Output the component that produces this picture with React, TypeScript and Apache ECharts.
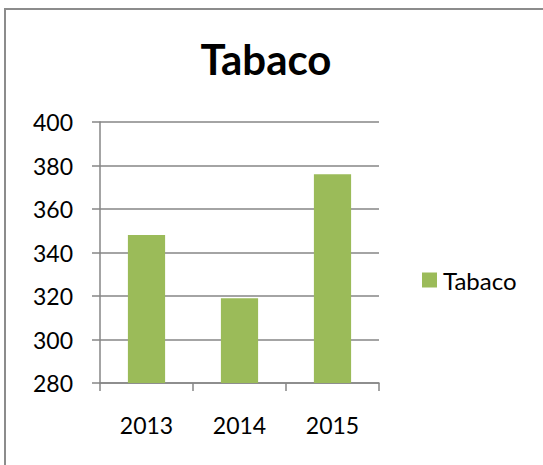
import React, { useEffect, useRef } from "react";
import * as echarts from "echarts";

const categories: string[] = ["2013", "2014", "2015"];
const tabacoValues: number[] = [348, 319, 376];
const seriesName = "Tabaco";
const titleText = "Tabaco";
const yMin = 280;
const yMax = 400;
const yInterval = 20;

const FONT = "Lato, 'Open Sans', sans-serif";
const GRAY = "#868686";

export default function App() {
  const ref = useRef<HTMLDivElement>(null);
  useEffect(() => {
    if (!ref.current) return;
    const chart = echarts.init(ref.current, null, { renderer: "svg" });
    chart.setOption({
      animation: false,
      backgroundColor: "#ffffff",
      title: {
        text: titleText,
        left: 266,
        top: 34,
        textAlign: "center",
        padding: 0,
        textStyle: {
          fontFamily: FONT,
          fontWeight: "bold",
          fontSize: 42,
          lineHeight: 50,
          color: "#000000",
        },
      },
      legend: {
        data: [seriesName],
        left: 422,
        top: 268,
        padding: 0,
        itemWidth: 15,
        itemHeight: 15,
        itemGap: 10,
        icon: "rect",
        textStyle: {
          fontFamily: FONT,
          fontSize: 24,
          lineHeight: 24,
          color: "#000000",
          padding: [0, 0, 0, 1],
        },
      },
      graphic: [
        {
          type: "polyline",
          silent: true,
          shape: {
            points: [
              [5, 600],
              [5, 9],
              [700, 9],
            ],
          },
          style: { stroke: "#8c8c8c", lineWidth: 2, fill: "none" },
        },
      ],
      grid: {
        left: 100,
        top: 122,
        right: 164,
        bottom: 82,
        containLabel: false,
      },
      xAxis: {
        type: "category",
        data: categories,
        boundaryGap: true,
        axisLine: { show: true, lineStyle: { color: GRAY, width: 1.5 } },
        axisTick: { show: true, length: 8, lineStyle: { color: GRAY, width: 1.5 } },
        axisLabel: {
          fontFamily: FONT,
          fontSize: 23,
          lineHeight: 24,
          color: "#000000",
          margin: 30,
        },
        splitLine: { show: false },
      },
      yAxis: {
        type: "value",
        min: yMin,
        max: yMax,
        interval: yInterval,
        axisLine: { show: true, lineStyle: { color: GRAY, width: 1.5 } },
        axisTick: { show: true, length: 8, lineStyle: { color: GRAY, width: 1.5 } },
        axisLabel: {
          fontFamily: FONT,
          fontSize: 23,
          color: "#000000",
          margin: 27,
        },
        splitLine: { show: true, lineStyle: { color: GRAY, width: 1.5 } },
      },
      series: [
        {
          name: seriesName,
          type: "bar",
          data: tabacoValues,
          barWidth: "40%",
          itemStyle: { color: "#9BBB59" },
        },
      ],
    });
    return () => chart.dispose();
  }, []);
  return (
    <div
      ref={ref}
      style={{ position: "fixed", left: 0, top: 0, width: 543, height: 465, background: "#fff" }}
    />
  );
}
